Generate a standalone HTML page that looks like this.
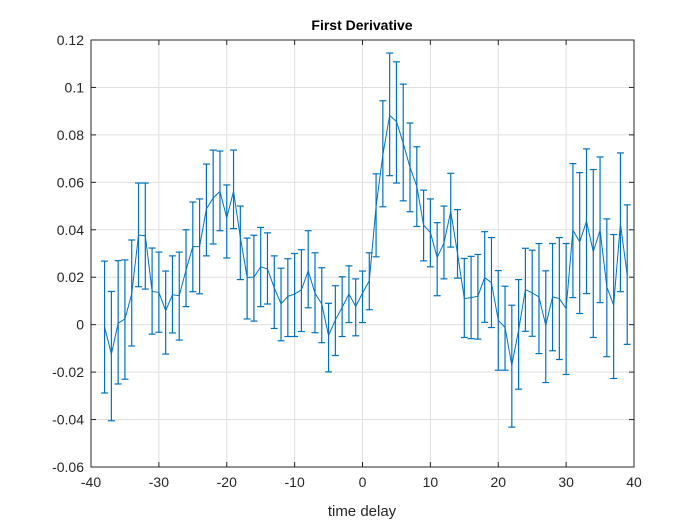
<!DOCTYPE html>
<html><head><meta charset="utf-8"><style>
html,body{margin:0;padding:0;background:#fff;}
svg{display:block;font-family:"Liberation Sans",Arial,sans-serif;}
</style></head><body>
<svg id="chart" width="700" height="525" viewBox="0 0 700 525" xmlns="http://www.w3.org/2000/svg">
<rect x="0" y="0" width="700" height="525" fill="#fff"/>
<rect x="91" y="40" width="543" height="427" fill="#fff"/>
<g id="grid"></g>
<g id="series"></g>
<g id="axes"></g>
<text x="362" y="30" text-anchor="middle" font-size="14" font-weight="bold" fill="#000">First Derivative</text>
<text x="362" y="516" text-anchor="middle" font-size="15" fill="#262626">time delay</text>
</svg>
<script>
const xValues = [-38,-37,-36,-35,-34,-33,-32,-31,-30,-29,-28,-27,-26,-25,-24,-23,-22,-21,-20,-19,-18,-17,-16,-15,-14,-13,-12,-11,-10,-9,-8,-7,-6,-5,-4,-3,-2,-1,0,1,2,3,4,5,6,7,8,9,10,11,12,13,14,15,16,17,18,19,20,21,22,23,24,25,26,27,28,29,30,31,32,33,34,35,36,37,38,39];
const yValues = [-0.001,-0.0124,0.0006,0.0024,0.013,0.0378,0.0375,0.014,0.0136,0.0059,0.0126,0.0122,0.023,0.0329,0.0329,0.0488,0.0534,0.0562,0.045,0.0562,0.0368,0.020,0.020,0.0244,0.0235,0.0155,0.0088,0.0119,0.0129,0.0147,0.0227,0.0133,0.0087,-0.0046,0.002,0.0073,0.0129,0.0077,0.0133,0.0185,0.0498,0.0716,0.0882,0.0857,0.0765,0.0663,0.0583,0.042,0.0389,0.0283,0.0344,0.0478,0.030,0.011,0.0114,0.012,0.0199,0.0177,0.0019,-0.0012,-0.0171,-0.0023,0.0148,0.0134,0.0117,-0.0003,0.0117,0.011,0.0068,0.0398,0.0349,0.0436,0.0307,0.0398,0.0159,0.0082,0.0426,0.0208];
const upperValues = [0.0268,0.014,0.027,0.0273,0.0357,0.0597,0.0597,0.0323,0.0306,0.0226,0.029,0.0306,0.040,0.0517,0.053,0.0677,0.0736,0.0732,0.0589,0.0736,0.050,0.0365,0.0377,0.041,0.0387,0.029,0.0238,0.0278,0.030,0.0316,0.0396,0.0303,0.024,0.009,0.0164,0.0202,0.0248,0.0193,0.0226,0.0303,0.0636,0.0944,0.1145,0.1108,0.1014,0.085,0.075,0.0567,0.053,0.043,0.050,0.0638,0.0485,0.0279,0.0288,0.0296,0.0392,0.0367,0.0228,0.0162,0.0082,0.019,0.0322,0.0314,0.0342,0.0227,0.0342,0.0367,0.0342,0.0679,0.0641,0.0741,0.0654,0.0707,0.0446,0.038,0.0724,0.0505];
const lowerValues = [-0.0288,-0.0405,-0.025,-0.023,-0.009,0.016,0.015,-0.004,-0.0032,-0.0124,-0.0035,-0.0065,0.0076,0.0139,0.013,0.029,0.034,0.0396,0.0281,0.0405,0.019,0.0024,0.0015,0.0076,0.0087,-0.0016,-0.0068,-0.005,-0.005,-0.0029,0.0071,-0.0034,-0.0076,-0.0199,-0.013,-0.005,0.0009,-0.0047,0.0009,0.0063,0.0286,0.0497,0.0628,0.0597,0.0522,0.0476,0.0414,0.0269,0.0244,0.0122,0.0193,0.0327,0.0196,-0.0054,-0.0059,-0.0061,0.001,-0.0012,-0.0192,-0.0192,-0.0432,-0.0272,-0.0028,-0.0049,-0.0122,-0.0244,-0.011,-0.0147,-0.021,0.0114,0.0047,0.0131,-0.0054,0.0093,-0.0135,-0.0227,0.0139,-0.0083];
const xTicks = [-40,-30,-20,-10,0,10,20,30,40];
const yTicks = [-0.06,-0.04,-0.02,0,0.02,0.04,0.06,0.08,0.1,0.12];
const yTickLabels = ['-0.06','-0.04','-0.02','0','0.02','0.04','0.06','0.08','0.1','0.12'];

const L=91,R=634,T=40,B=467;
const xScale = v => L + (v - (-40)) / 80 * (R - L);
const yScale = v => B - (v - (-0.06)) / 0.18 * (B - T);
const NS='http://www.w3.org/2000/svg';
function mk(tag, attrs, parent){const e=document.createElementNS(NS,tag);for(const k in attrs)e.setAttribute(k,attrs[k]);parent.appendChild(e);return e;}
const grid=document.getElementById('grid'), series=document.getElementById('series'), axes=document.getElementById('axes');

xTicks.forEach(t=>{
  const x=xScale(t);
  const g=mk('line',{x1:x,x2:x,y1:T,y2:B,stroke:'#dfdfdf','stroke-width':1},grid);
  
  
  mk('line',{x1:x,x2:x,y1:B,y2:B-5,stroke:'#262626','stroke-width':1},axes);
  mk('line',{x1:x,x2:x,y1:T,y2:T+5,stroke:'#262626','stroke-width':1},axes);
  const lb=mk('text',{x:x,y:B+20,'text-anchor':'middle','font-size':14,fill:'#262626'},axes);
  lb.textContent=String(t);
  
  
});
yTicks.forEach((t,i)=>{
  const y=yScale(t);
  const g=mk('line',{x1:L,x2:R,y1:y,y2:y,stroke:'#dfdfdf','stroke-width':1},grid);
  
  
  mk('line',{x1:L,x2:L+5,y1:y,y2:y,stroke:'#262626','stroke-width':1},axes);
  mk('line',{x1:R,x2:R-5,y1:y,y2:y,stroke:'#262626','stroke-width':1},axes);
  const lb=mk('text',{x:L-7,y:y+5,'text-anchor':'end','font-size':14,fill:'#262626'},axes);
  lb.textContent=yTickLabels[i];
  
  
});
const box=mk('rect',{x:L,y:T,width:R-L,height:B-T,fill:'none',stroke:'#262626','stroke-width':1},axes);



xValues.forEach((xv,i)=>{
  const x=xScale(xv), yt=yScale(upperValues[i]), yb=yScale(lowerValues[i]);
  const g=mk('g',{stroke:'#0072BD','stroke-width':1.2,fill:'none'},series);
  
  
  mk('line',{x1:x,x2:x,y1:yt,y2:yb},g);
  mk('line',{x1:x-3.5,x2:x+3.5,y1:yt,y2:yt},g);
  mk('line',{x1:x-3.5,x2:x+3.5,y1:yb,y2:yb},g);
});
const pts=xValues.map((xv,i)=>xScale(xv).toFixed(2)+','+yScale(yValues[i]).toFixed(2)).join(' ');
const pl=mk('polyline',{points:pts,fill:'none',stroke:'#0072BD','stroke-width':1},series);


</script>
</body></html>
